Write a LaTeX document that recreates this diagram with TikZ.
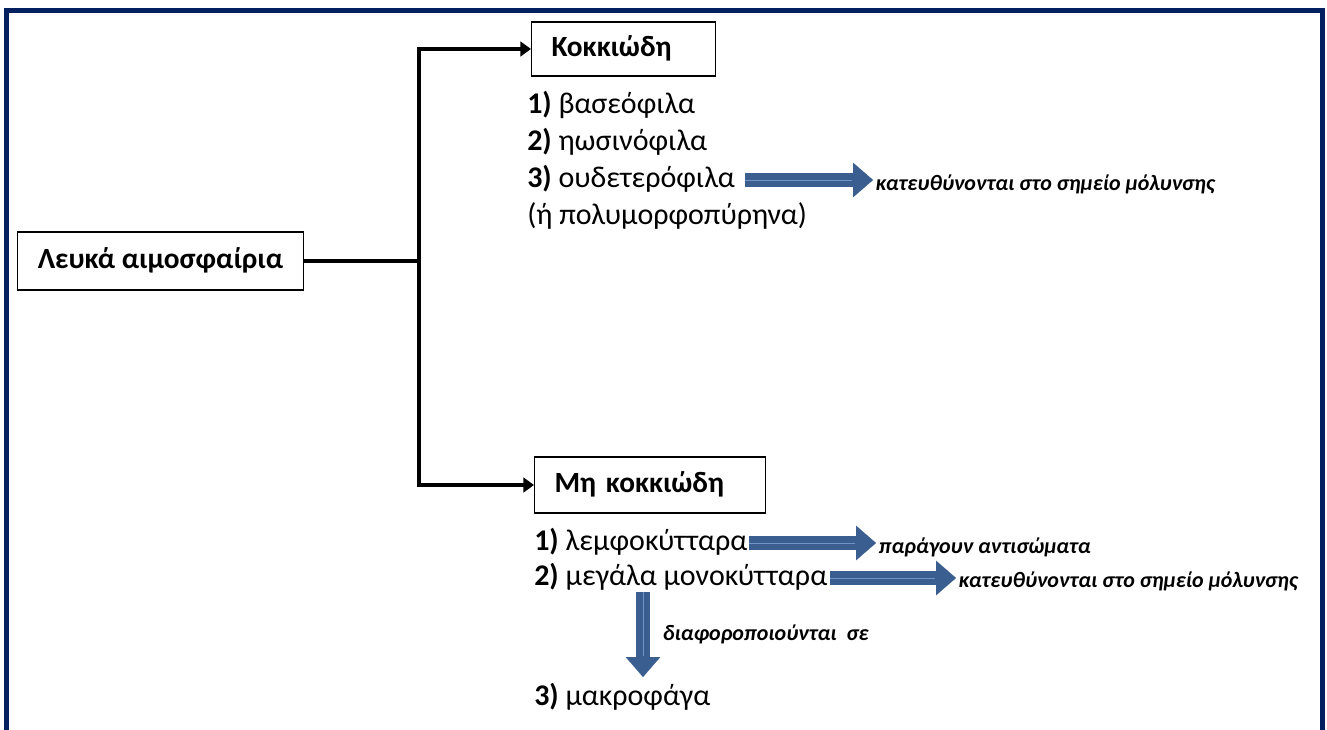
\documentclass[tikz,border=0pt]{standalone}
\usepackage{fontspec}
\setmainfont{Carlito}
\usetikzlibrary{arrows.meta,positioning,calc}
\definecolor{framenavy}{HTML}{002060}
\definecolor{arrowfill}{HTML}{3B5E91}
\definecolor{arrowhi}{HTML}{7393C2}

\begin{document}
\begin{tikzpicture}[x=0.75pt,y=-0.75pt,
        frame/.style={draw=framenavy,line width=3.75pt},
        box/.style={draw=black,line width=0.9pt,font=\bfseries\fontsize{22}{26}\selectfont,
            inner ysep=0pt,text height=15pt,text depth=4pt},
        leftbox/.style={box,align=left,inner xsep=15pt},
        link/.style={draw=black,line width=2.6pt},
        flow/.style={link,-{Triangle[length=8pt,width=11pt]}},
        item/.style={font=\fontsize{22.5}{27}\selectfont,inner sep=0pt,
            text height=16pt,text depth=5pt,anchor=west},
        note/.style={font=\bfseries\itshape\fontsize{16.5}{19}\selectfont,inner sep=2pt,anchor=west},
        blockarrow/.style={draw=arrowfill,line width=10pt,
            -{Triangle[length=15pt,width=26pt,line width=0.1pt]},
            postaction={draw=arrowhi,line width=0.6pt,-,shorten >=16pt}}]
    \useasboundingbox (0,0) rectangle (1327,729);

    % frame, open at the bottom
    \draw[frame] (6,745) -- (6,10) -- (1322,10) -- (1322,745);

    % main boxes
    \node[box,minimum width=215pt,minimum height=43.5pt] (leuka) at (160.5,261) {Λευκά αιμοσφαίρια};
    \node[leftbox,text width=108pt,minimum height=40.5pt,anchor=west] (kokk) at (531,49) {Κοκκιώδη};
    \node[leftbox,text width=143pt,minimum height=42pt,anchor=west] (mikokk) at (534,485) {Μη κοκκιώδη};

    % tree connector
    \coordinate (junc) at (419,261);
    \draw[link] (leuka.east) -- (junc);
    \draw[flow] (junc) |- (kokk.west);
    \draw[flow] (junc) |- (mikokk.west);

    % granular list
    \node[item] (g1) at (527,106) {\textbf{1)} βασεόφιλα};
    \node[item] (g2) at ($(g1.west)+(0,37)$) {\textbf{2)} ηωσινόφιλα};
    \node[item] (g3) at ($(g2.west)+(0,37)$) {\textbf{3)} ουδετερόφιλα};
    \node[item] (g4) at ($(g3.west)+(0,37)$) {(ή πολυμορφοπύρηνα)};
    \node[note] (n1) at (873,184) {κατευθύνονται στο σημείο μόλυνσης};
    \draw[blockarrow,shorten <=7pt] (g3.east) -- (g3.east -| n1.west);

    % agranular list
    \node[item] (m1) at (534,543) {\textbf{1)} λεμφοκύτταρα};
    \node[item] (m2) at ($(m1.west)+(0,35)$) {\textbf{2)} μεγάλα μονοκύτταρα};
    \node[item] (m3) at (534,698) {\textbf{3)} μακροφάγα};
    \node[note] (n2) at (876,547) {παράγουν αντισώματα};
    \node[note] (n3) at (956,581) {κατευθύνονται στο σημείο μόλυνσης};
    \draw[blockarrow,shorten <=1pt] (m1.east) -- (m1.east -| n2.west);
    \draw[blockarrow,shorten <=2pt] (m2.east) -- (m2.east -| n3.west);

    \coordinate (dtop) at (643,592);
    \coordinate (dbot) at (643,677);
    \draw[blockarrow] (dtop) -- (dbot);
    \node[note] (n4) at ($(dtop)!0.5!(dbot)+(17,0)$) {διαφοροποιούνται\ \ σε};
\end{tikzpicture}
\end{document}
